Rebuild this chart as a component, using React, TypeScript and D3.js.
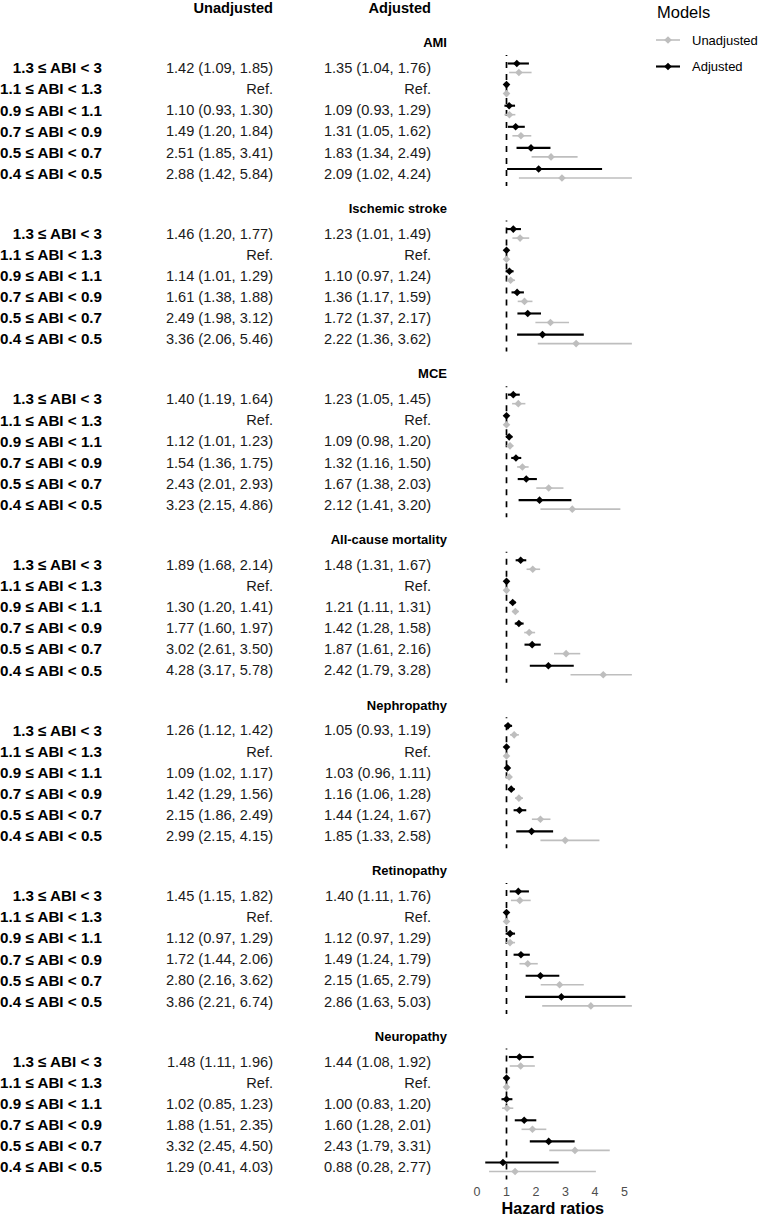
import React from "react";
import * as d3 from "d3";

// ---------------- data ----------------
const outcomes = ["AMI", "Ischemic stroke", "MCE", "All-cause mortality", "Nephropathy", "Retinopathy", "Neuropathy"];
const abiLabels = ["1.3 ≤ ABI < 3", "1.1 ≤ ABI < 1.3", "0.9 ≤ ABI < 1.1", "0.7 ≤ ABI < 0.9", "0.5 ≤ ABI < 0.7", "0.4 ≤ ABI < 0.5"];
const models = ["Unadjusted", "Adjusted"];
const xTicks = [0, 1, 2, 3, 4, 5];

// null = reference category
const unadjHR = [
  [1.42, null, 1.10, 1.49, 2.51, 2.88],
  [1.46, null, 1.14, 1.61, 2.49, 3.36],
  [1.40, null, 1.12, 1.54, 2.43, 3.23],
  [1.89, null, 1.30, 1.77, 3.02, 4.28],
  [1.26, null, 1.09, 1.42, 2.15, 2.99],
  [1.45, null, 1.12, 1.72, 2.80, 3.86],
  [1.48, null, 1.02, 1.88, 3.32, 1.29],
];
const unadjLo = [
  [1.09, null, 0.93, 1.20, 1.85, 1.42],
  [1.20, null, 1.01, 1.38, 1.98, 2.06],
  [1.19, null, 1.01, 1.36, 2.01, 2.15],
  [1.68, null, 1.20, 1.60, 2.61, 3.17],
  [1.12, null, 1.02, 1.29, 1.86, 2.15],
  [1.15, null, 0.97, 1.44, 2.16, 2.21],
  [1.11, null, 0.85, 1.51, 2.45, 0.41],
];
const unadjHi = [
  [1.85, null, 1.30, 1.84, 3.41, 5.84],
  [1.77, null, 1.29, 1.88, 3.12, 5.46],
  [1.64, null, 1.23, 1.75, 2.93, 4.86],
  [2.14, null, 1.41, 1.97, 3.50, 5.78],
  [1.42, null, 1.17, 1.56, 2.49, 4.15],
  [1.82, null, 1.29, 2.06, 3.62, 6.74],
  [1.96, null, 1.23, 2.35, 4.50, 4.03],
];
const adjHR = [
  [1.35, null, 1.09, 1.31, 1.83, 2.09],
  [1.23, null, 1.10, 1.36, 1.72, 2.22],
  [1.23, null, 1.09, 1.32, 1.67, 2.12],
  [1.48, null, 1.21, 1.42, 1.87, 2.42],
  [1.05, null, 1.03, 1.16, 1.44, 1.85],
  [1.40, null, 1.12, 1.49, 2.15, 2.86],
  [1.44, null, 1.00, 1.60, 2.43, 0.88],
];
const adjLo = [
  [1.04, null, 0.93, 1.05, 1.34, 1.02],
  [1.01, null, 0.97, 1.17, 1.37, 1.36],
  [1.05, null, 0.98, 1.16, 1.38, 1.41],
  [1.31, null, 1.11, 1.28, 1.61, 1.79],
  [0.93, null, 0.96, 1.06, 1.24, 1.33],
  [1.11, null, 0.97, 1.24, 1.65, 1.63],
  [1.08, null, 0.83, 1.28, 1.79, 0.28],
];
const adjHi = [
  [1.76, null, 1.29, 1.62, 2.49, 4.24],
  [1.49, null, 1.24, 1.59, 2.17, 3.62],
  [1.45, null, 1.20, 1.50, 2.03, 3.20],
  [1.67, null, 1.31, 1.58, 2.16, 3.28],
  [1.19, null, 1.11, 1.28, 1.67, 2.58],
  [1.76, null, 1.29, 1.79, 2.79, 5.03],
  [1.92, null, 1.20, 2.01, 3.31, 2.77],
];

// ---------------- layout ----------------
const W = 758;
const H = 1218;
const FONT = "'Liberation Sans', Arial, Helvetica, sans-serif";
const GREY = "#bebebe";

const x = d3.scaleLinear().domain([0, 5]).range([477, 624.5]);
const xClip: [number, number] = [-0.25, 5.25];
const groupY = d3.scaleLinear().domain([0, outcomes.length - 1]).range([68, 1061.5]);
const rowY = d3.scaleLinear().domain([0, abiLabels.length - 1]).range([0, 105.5]);
const dodge = d3.scaleOrdinal<string, number>().domain(models).range([5, -4]);
const color = d3.scaleOrdinal<string, string>().domain(models).range([GREY, "#000"]);
const lw = d3.scaleOrdinal<string, number>().domain(models).range([1.6, 2.1]);

const labelRight = 102;
const unadjRight = 273;
const adjRight = 431;
const titleRight = 447;

const fmt = (v: number) => v.toFixed(2);
const clamp = (v: number) => Math.max(xClip[0], Math.min(xClip[1], v));

function diamond(cx: number, cy: number, r: number) {
  const p = d3.path();
  p.moveTo(cx, cy - r);
  p.lineTo(cx + r, cy);
  p.lineTo(cx, cy + r);
  p.lineTo(cx - r, cy);
  p.closePath();
  return p.toString();
}

type Est = { model: string; hr: number; lo: number | null; hi: number | null };

export default function App() {
  const seriesFor = (g: number, r: number): Est[] => {
    const u = unadjHR[g][r];
    const a = adjHR[g][r];
    return [
      { model: "Unadjusted", hr: u ?? 1, lo: unadjLo[g][r], hi: unadjHi[g][r] },
      { model: "Adjusted", hr: a ?? 1, lo: adjLo[g][r], hi: adjHi[g][r] },
    ];
  };

  return (
    <svg
      width={W}
      height={H}
      style={{ position: "absolute", left: 0, top: 0, background: "#fff" }}
      fontFamily={FONT}
    >
      {/* column headers */}
      <text x={unadjRight} y={7.5} dy="0.35em" textAnchor="end" fontWeight="bold" fontSize={14.6} fill="#000">
        Unadjusted
      </text>
      <text x={adjRight} y={7.5} dy="0.35em" textAnchor="end" fontWeight="bold" fontSize={14.6} fill="#000">
        Adjusted
      </text>

      {outcomes.map((o, g) => {
        const gy = groupY(g);
        const yFirst = gy + rowY(0);
        const yLast = gy + rowY(abiLabels.length - 1);
        return (
          <g key={o}>
            <text x={titleRight} y={yFirst - 25.3} dy="0.35em" textAnchor="end" fontWeight="bold" fontSize={13} fill="#000">
              {o}
            </text>
            {/* reference dashed line */}
            <line
              x1={x(1)}
              x2={x(1)}
              y1={yFirst - 13}
              y2={yLast + 12.5}
              stroke="#000"
              strokeWidth={1.7}
              strokeDasharray="6,6"
              strokeDashoffset={5}
            />
            {abiLabels.map((lab, r) => {
              const cy = gy + rowY(r);
              const u = unadjHR[g][r];
              const a = adjHR[g][r];
              const uText = u == null ? "Ref." : `${fmt(u)} (${fmt(unadjLo[g][r] as number)}, ${fmt(unadjHi[g][r] as number)})`;
              const aText = a == null ? "Ref." : `${fmt(a)} (${fmt(adjLo[g][r] as number)}, ${fmt(adjHi[g][r] as number)})`;
              return (
                <g key={lab}>
                  <text x={labelRight} y={cy} dy="0.35em" textAnchor="end" fontWeight="bold" fontSize={15.2} fill="#000">
                    {lab}
                  </text>
                  <text x={unadjRight} y={cy} dy="0.35em" textAnchor="end" fontSize={14.6} fill="#1a1a1a">
                    {uText}
                  </text>
                  <text x={adjRight} y={cy} dy="0.35em" textAnchor="end" fontSize={14.6} fill="#1a1a1a">
                    {aText}
                  </text>
                  {seriesFor(g, r).map((s) => {
                    const py = cy - 0.5 + dodge(s.model);
                    return (
                      <g key={s.model}>
                        {s.lo != null && s.hi != null && (
                          <line
                            x1={x(clamp(s.lo))}
                            x2={x(clamp(s.hi))}
                            y1={py}
                            y2={py}
                            stroke={color(s.model)}
                            strokeWidth={lw(s.model)}
                          />
                        )}
                        <path d={diamond(x(s.hr), py, 3.8)} fill={color(s.model)} />
                      </g>
                    );
                  })}
                </g>
              );
            })}
          </g>
        );
      })}

      {/* x axis tick labels */}
      {xTicks.map((t) => (
        <text key={t} x={x(t)} y={1192} dy="0.35em" textAnchor="middle" fontSize={12.5} fill="#4d4d4d">
          {t}
        </text>
      ))}
      <text x={(x(0) + x(5)) / 2 + 2} y={1214} textAnchor="middle" fontWeight="bold" fontSize={16.2} fill="#000">
        Hazard ratios
      </text>

      {/* legend */}
      <text x={657} y={12.5} dy="0.35em" fontSize={16.5} fill="#000">
        Models
      </text>
      {models.map((m, i) => {
        const ly = 40 + i * 26.5;
        return (
          <g key={m}>
            <line x1={656} x2={680} y1={ly} y2={ly} stroke={color(m)} strokeWidth={lw(m)} />
            <path d={diamond(668, ly, 3.8)} fill={color(m)} />
            <text x={692} y={ly} dy="0.35em" fontSize={13} fill="#000">
              {m}
            </text>
          </g>
        );
      })}
    </svg>
  );
}
